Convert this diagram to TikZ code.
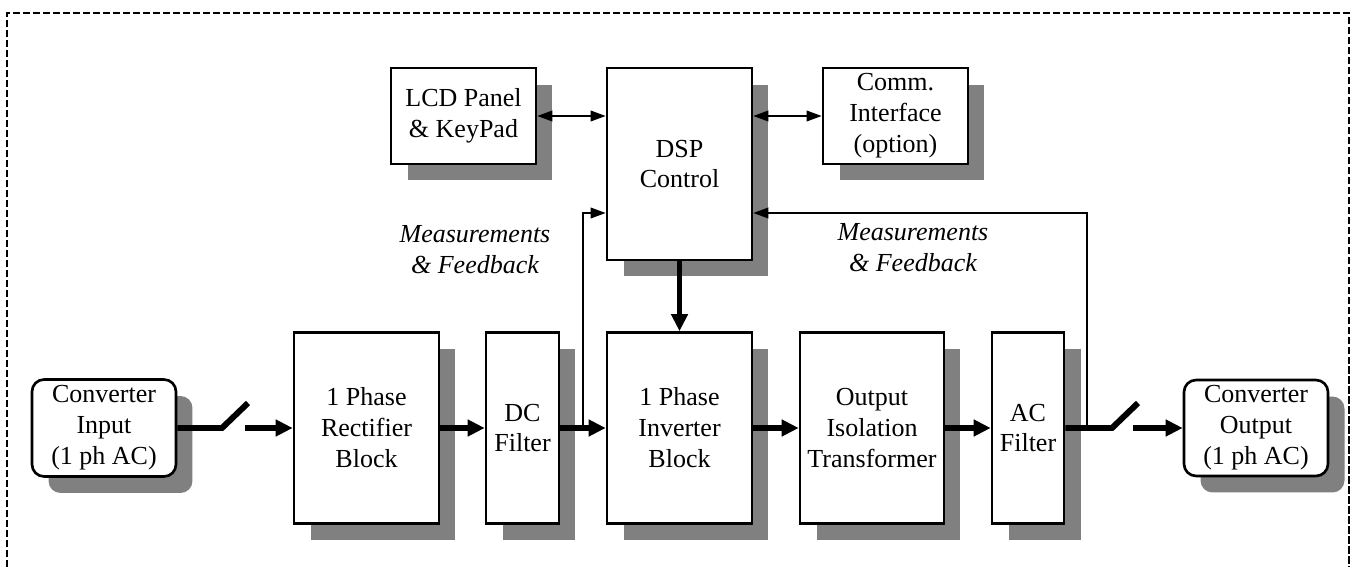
\documentclass[tikz,border=0pt]{standalone}
\usepackage{fontspec}
\setmainfont{Liberation Serif}
\usetikzlibrary{arrows.meta,shadows}

\begin{document}
\begin{tikzpicture}[x=0.02cm, y=-0.02cm,
    txt/.style={font=\fontsize{14.8}{17.6}\selectfont, align=center},
    blk/.style={txt, draw, line width=1.5pt, fill=white, inner sep=0pt,
      drop shadow={shadow xshift=0.33cm, shadow yshift=-0.33cm, fill=black!50, opacity=1}},
    rblk/.style={blk, rounded corners=0.24cm},
    lbl/.style={txt, font=\fontsize{14.8}{17.6}\selectfont\itshape},
    power/.style={line width=3.4pt},
    powarr/.style={power, -{Triangle[length=0.34cm, width=0.32cm]}},
    sig/.style={line width=1.1pt},
    sigarr/.style={sig, -{Triangle[length=0.3cm, width=0.21cm]}},
    frame/.style={line width=1.3pt, dash pattern=on 0.15cm off 0.05cm}]
      \useasboundingbox (0,0) rectangle (1352,567);
      \draw[frame] (7,567) -- (7,13) -- (1349,13) -- (1349,567);

      % Top row
      \node[blk, minimum width=2.9cm, minimum height=1.92cm] (lcd) at (463.5,116) {LCD Panel\\\& KeyPad};
      \node[blk, minimum width=2.9cm, minimum height=3.84cm] (dsp) at (679.5,164) {DSP\\Control};
      \node[blk, minimum width=2.9cm, minimum height=1.92cm] (comm) at (895.5,116) {Comm.\\Interface\\(option)};

      % Power path
      \node[rblk, minimum width=2.88cm, minimum height=1.94cm] (cin) at (104,428) {Converter\\Input\\(1 ph AC)};
      \node[blk, minimum width=2.9cm, minimum height=3.82cm] (rect) at (366.5,428) {1 Phase\\Rectifier\\Block};
      \node[blk, minimum width=1.46cm, minimum height=3.82cm] (dcf) at (522.5,428) {DC\\Filter};
      \node[blk, minimum width=2.9cm, minimum height=3.82cm] (inv) at (679.5,428) {1 Phase\\Inverter\\Block};
      \node[blk, minimum width=2.88cm, minimum height=3.82cm] (iso) at (872,428) {Output\\Isolation\\Transformer};
      \node[blk, minimum width=1.44cm, minimum height=3.82cm] (acf) at (1028,428) {AC\\Filter};
      \node[rblk, minimum width=2.88cm, minimum height=1.92cm] (cout) at (1256,428) {Converter\\Output\\(1 ph AC)};

      % Labels
      \node[lbl] (mfl) at (475,250) {Measurements\\\& Feedback};
      \node[lbl] (mfr) at (913,248) {Measurements\\\& Feedback};

      % Switches
      \coordinate (swia) at (222,428);
      \coordinate (swib) at (248,403);
      \coordinate (swic) at (245,428);
      \coordinate (swoa) at (1112,428);
      \coordinate (swob) at (1138,403);
      \coordinate (swoc) at (1133,428);
      \draw[power] (cin.east) -- (swia) -- (swib);
      \draw[powarr] (swic) -- (rect.west);
      \draw[power] (acf.east) -- (swoa) -- (swob);
      \draw[powarr] (swoc) -- (cout.west);

      % Interactions
      \draw[powarr] (rect.east) -- (dcf.west);
      \draw[powarr] (dcf.east) -- (inv.west);
      \draw[powarr] (inv.east) -- (iso.west);
      \draw[powarr] (iso.east) -- (acf.west);
      \draw[powarr] (dsp.south) -- (inv.north);
      \draw[sig, {Triangle[length=0.3cm, width=0.21cm]}-{Triangle[length=0.3cm, width=0.21cm]}] (lcd.east) -- (lcd.east -| dsp.west);
      \draw[sig, {Triangle[length=0.3cm, width=0.21cm]}-{Triangle[length=0.3cm, width=0.21cm]}] (comm.west -| dsp.east) -- (comm.west);

      % Feedback
      \coordinate (fbla) at (583,428);
      \coordinate (fblb) at (583,213);
      \coordinate (fbra) at (1087,428);
      \coordinate (fbrb) at (1087,213);
      \draw[sigarr] (fbla) -- (fblb) -- (fblb -| dsp.west);
      \draw[sigarr] (fbra) -- (fbrb) -- (fbrb -| dsp.east);
    \end{tikzpicture}
\end{document}
